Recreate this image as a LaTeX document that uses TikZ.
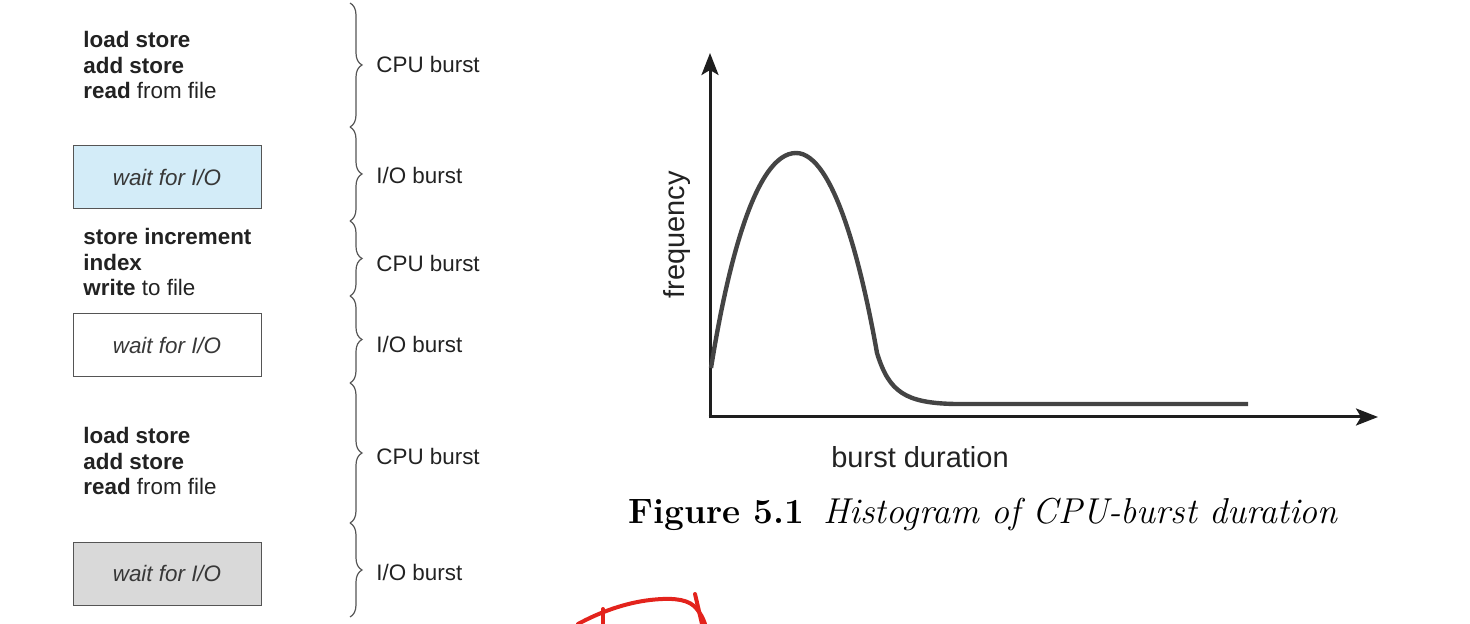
\documentclass[tikz,border=0pt]{standalone}
\usepackage{fontspec}
\setsansfont{Liberation Sans}
\usetikzlibrary{decorations.pathreplacing,arrows.meta}
\definecolor{txt}{HTML}{222222}
\definecolor{bracegray}{HTML}{555555}
\definecolor{boxblue}{HTML}{D3ECF8}
\definecolor{boxgray}{HTML}{D9D9D9}
\definecolor{curvegray}{HTML}{444444}
\definecolor{axisblack}{HTML}{1E1E1E}
\definecolor{pen}{HTML}{E3231C}
\tikzset{
  code/.style={anchor=west, align=left, font=\sffamily\fontsize{11.2pt}{12.75pt}\selectfont, text=txt, inner sep=0pt},
  lbl/.style={anchor=west, font=\sffamily\fontsize{11.2pt}{13pt}\selectfont, text=txt, inner sep=0pt},
  waitbox/.style={draw=bracegray, line width=0.5pt, minimum width=94pt, minimum height=31.5pt, inner sep=0pt, font=\sffamily\itshape\fontsize{11.2pt}{13pt}\selectfont, text=txt!90},
  burstbrace/.style={draw=bracegray, line width=0.6pt, decorate, decoration={brace, amplitude=6pt}},
  axis/.style={draw=axisblack, line width=1.5pt, -{Stealth[length=11pt,width=8.5pt,inset=2.5pt]}},
  axlabel/.style={font=\sffamily\fontsize{14.5pt}{17pt}\selectfont, text=txt, inner sep=0pt},
  scribble/.style={draw=pen, line width=2pt, line cap=round, line join=round}
}
\begin{document}
\begin{tikzpicture}[x=0.5pt, y=-0.5pt]
\useasboundingbox (0,0) rectangle (1470,624);

% left column
\node[code] (c1) at (83,65) {\textbf{load store}\\\textbf{add store}\\\textbf{read} from file};
\node[waitbox, fill=boxblue] (w1) at (167,177) {wait for I/O};
\node[code] (c2) at (83,262) {\textbf{store increment}\\\textbf{index}\\\textbf{write} to file};
\node[waitbox, fill=white] (w2) at (167,345.5) {wait for I/O};
\node[code] (c3) at (83,461) {\textbf{load store}\\\textbf{add store}\\\textbf{read} from file};
\node[waitbox, fill=boxgray] (w3) at (167,573.5) {wait for I/O};

% braces
\coordinate (b0) at (350,3);
\coordinate (b1) at (350,127);
\coordinate (b2) at (350,221);
\coordinate (b3) at (350,296);
\coordinate (b4) at (350,383);
\coordinate (b5) at (350,523);
\coordinate (b6) at (350,617);
\draw[burstbrace] (b0) -- (b1);
\draw[burstbrace] (b1) -- (b2);
\draw[burstbrace] (b2) -- (b3);
\draw[burstbrace] (b3) -- (b4);
\draw[burstbrace] (b4) -- (b5);
\draw[burstbrace] (b5) -- (b6);

\node[lbl] (l1) at (376,65) {CPU burst};
\node[lbl] (l2) at (376,175) {I/O burst};
\node[lbl] (l3) at (376,263) {CPU burst};
\node[lbl] (l4) at (376,344) {I/O burst};
\node[lbl] (l5) at (376,456) {CPU burst};
\node[lbl] (l6) at (376,572) {I/O burst};

% histogram
\coordinate (o) at (710,417);
\coordinate (ytip) at (710,53);
\coordinate (xtip) at (1378,417);
\draw[axis] ([yshift=-0.75pt]o) -- (ytip);
\draw[axis] ([xshift=-0.75pt]o) -- (xtip);
\draw[curvegray, line width=2.2pt, line join=round]
  (711,368) .. controls (728,262) and (756,153) .. (796,153)
  .. controls (834,153) and (862,268) .. (877,353)
  .. controls (889,392) and (905,403) .. (955,404) -- (1248,404);

\node[axlabel, rotate=90] (freq) at (677,235) {frequency};
\node[axlabel, anchor=base] (dur) at (920,467) {burst duration};

% caption
\node[anchor=base west, inner sep=0pt, text=black] (cap) at (628,523)
  {\fontsize{17.6pt}{20pt}\selectfont\textbf{Figure 5.1}\hspace{0.55em}\fontsize{18pt}{20pt}\selectfont\textit{Histogram of CPU-burst duration}};

% red pen scribble
\draw[scribble] (578,624) .. controls (600,612) and (625,603) .. (650,600)
  .. controls (668,598) and (685,598) .. (694,606) .. controls (700,612) and (703,618) .. (705,624);
\draw[scribble] (603,609) -- (603,624);
\draw[scribble] (695,594) -- (702,624);
\end{tikzpicture}
\end{document}
